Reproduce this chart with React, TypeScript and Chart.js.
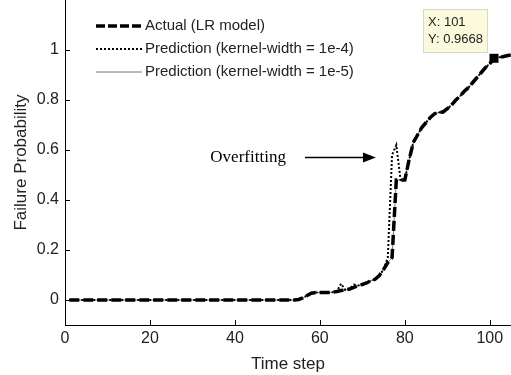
import React, { useEffect, useRef } from "react";
import { Chart, registerables } from "chart.js";

Chart.register(...registerables);

// ---- data ----
const timeSteps: number[] = [
  1, 2, 3, 4, 5, 6, 7, 8, 9, 10, 11, 12, 13, 14, 15, 16, 17, 18, 19, 20,
  21, 22, 23, 24, 25, 26, 27, 28, 29, 30, 31, 32, 33, 34, 35, 36, 37, 38, 39, 40,
  41, 42, 43, 44, 45, 46, 47, 48, 49, 50, 51, 52, 53, 54, 55, 56, 57, 58, 59, 60,
  61, 62, 63, 64, 65, 66, 67, 68, 69, 70, 71, 72, 73, 74, 75, 76, 77, 78, 79, 80,
  81, 82, 83, 84, 85, 86, 87, 88, 89, 90, 91, 92, 93, 94, 95, 96, 97, 98, 99, 100,
  101, 102, 103, 104, 105,
];

const actualLR: number[] = [
  0, 0, 0, 0, 0, 0, 0, 0, 0, 0, 0, 0, 0, 0, 0, 0, 0, 0, 0, 0,
  0, 0, 0, 0, 0, 0, 0, 0, 0, 0, 0, 0, 0, 0, 0, 0, 0, 0, 0, 0,
  0, 0, 0, 0, 0, 0, 0, 0, 0, 0, 0, 0, 0, 0, 0.002, 0.008, 0.018, 0.027, 0.03, 0.03,
  0.03, 0.03, 0.031, 0.034, 0.038, 0.04, 0.044, 0.05, 0.058, 0.062, 0.068, 0.077, 0.083, 0.098, 0.122, 0.15, 0.17, 0.48, 0.48, 0.48,
  0.56, 0.63, 0.66, 0.69, 0.71, 0.73, 0.745, 0.75, 0.752, 0.765, 0.78, 0.8, 0.815, 0.835, 0.85, 0.87, 0.89, 0.91, 0.93, 0.945,
  0.9668, 0.97, 0.973, 0.977, 0.98,
];

const predKw1e4: number[] = [
  0, 0, 0, 0, 0, 0, 0, 0, 0, 0, 0, 0, 0, 0, 0, 0, 0, 0, 0, 0,
  0, 0, 0, 0, 0, 0, 0, 0, 0, 0, 0, 0, 0, 0, 0, 0, 0, 0, 0, 0,
  0, 0, 0, 0, 0, 0, 0, 0, 0, 0, 0, 0, 0, 0, 0.002, 0.008, 0.018, 0.027, 0.03, 0.03,
  0.03, 0.03, 0.031, 0.034, 0.065, 0.04, 0.044, 0.062, 0.058, 0.062, 0.068, 0.077, 0.083, 0.098, 0.122, 0.17, 0.58, 0.62, 0.48, 0.48,
  0.56, 0.63, 0.66, 0.69, 0.71, 0.73, 0.745, 0.75, 0.752, 0.765, 0.78, 0.8, 0.815, 0.835, 0.85, 0.87, 0.89, 0.91, 0.93, 0.945,
  0.9668, 0.97, 0.973, 0.977, 0.98,
];

const predKw1e5: number[] = [
  0, 0, 0, 0, 0, 0, 0, 0, 0, 0, 0, 0, 0, 0, 0, 0, 0, 0, 0, 0,
  0, 0, 0, 0, 0, 0, 0, 0, 0, 0, 0, 0, 0, 0, 0, 0, 0, 0, 0, 0,
  0, 0, 0, 0, 0, 0, 0, 0, 0, 0, 0, 0, 0, 0, 0.002, 0.008, 0.018, 0.027, 0.03, 0.03,
  0.03, 0.03, 0.031, 0.034, 0.038, 0.04, 0.044, 0.05, 0.058, 0.062, 0.068, 0.077, 0.083, 0.098, 0.122, 0.15, 0.17, 0.48, 0.48, 0.48,
  0.56, 0.63, 0.66, 0.69, 0.71, 0.73, 0.745, 0.75, 0.752, 0.765, 0.78, 0.8, 0.815, 0.835, 0.85, 0.87, 0.89, 0.91, 0.93, 0.945,
  0.9668, 0.97, 0.973, 0.977, 0.98,
];

const seriesLabels = [
  "Actual (LR model)",
  "Prediction (kernel-width = 1e-4)",
  "Prediction (kernel-width = 1e-5)",
];

const xTicks = [0, 20, 40, 60, 80, 100];
const yTicks = [0, 0.2, 0.4, 0.6, 0.8, 1];
const xRange = [0, 105];
const yRange = [-0.1, 1.2];

const dataTipPoint = { x: 101, y: 0.9668 };
const annotationText = "Overfitting";
const annotationY = 0.57;
const arrowFromX = 56.5;
const arrowToX = 73.2;
const textRightX = 52;

const SANS = "'Liberation Sans', Arial, sans-serif";
const SERIF = "'Liberation Serif', 'Times New Roman', serif";

const toXY = (ys: number[]) => ys.map((y, i) => ({ x: timeSteps[i], y }));

const overlayPlugin = {
  id: "overlay",
  afterDatasetsDraw(chart: any) {
    const { ctx, chartArea: ca, scales } = chart;
    const xs = scales.x;
    const ys = scales.y;
    ctx.save();

    // inward ticks
    ctx.strokeStyle = "#000";
    ctx.lineWidth = 1;
    ctx.setLineDash([]);
    for (const v of xTicks) {
      const px = Math.round(xs.getPixelForValue(v)) + 0.5;
      ctx.beginPath();
      ctx.moveTo(px, ca.bottom);
      ctx.lineTo(px, ca.bottom - 5);
      ctx.stroke();
    }
    for (const v of yTicks) {
      const py = Math.round(ys.getPixelForValue(v)) + 0.5;
      ctx.beginPath();
      ctx.moveTo(ca.left, py);
      ctx.lineTo(ca.left + 5, py);
      ctx.stroke();
    }

    // annotation arrow
    const ay = ys.getPixelForValue(annotationY);
    const ax0 = xs.getPixelForValue(arrowFromX);
    const ax1 = xs.getPixelForValue(arrowToX);
    ctx.strokeStyle = "#000";
    ctx.fillStyle = "#000";
    ctx.lineWidth = 1.5;
    ctx.beginPath();
    ctx.moveTo(ax0, ay);
    ctx.lineTo(ax1 - 10, ay);
    ctx.stroke();
    ctx.beginPath();
    ctx.moveTo(ax1, ay);
    ctx.lineTo(ax1 - 13, ay - 5);
    ctx.lineTo(ax1 - 13, ay + 5);
    ctx.closePath();
    ctx.fill();
    ctx.font = `17px ${SERIF}`;
    ctx.textAlign = "right";
    ctx.textBaseline = "middle";
    ctx.fillText(annotationText, xs.getPixelForValue(textRightX), ay);

    // data tip
    const mx = xs.getPixelForValue(dataTipPoint.x);
    const my = ys.getPixelForValue(dataTipPoint.y);
    const bw = 64;
    const bh = 43;
    const bx = mx - 7 - bw;
    const by = my - 6 - bh;
    ctx.fillStyle = "#fbfadc";
    ctx.fillRect(bx, by, bw, bh);
    ctx.strokeStyle = "#d8d8c8";
    ctx.lineWidth = 1;
    ctx.strokeRect(Math.round(bx) + 0.5, Math.round(by) + 0.5, bw, bh);
    ctx.fillStyle = "#222";
    ctx.font = `13px ${SANS}`;
    ctx.textAlign = "left";
    ctx.textBaseline = "middle";
    ctx.fillText(`X: ${dataTipPoint.x}`, bx + 5, by + 13);
    ctx.fillText(`Y: ${dataTipPoint.y}`, bx + 5, by + 30);
    ctx.fillStyle = "#000";
    ctx.fillRect(mx - 4.5, my - 4.5, 9, 9);

    // legend
    const lx0 = ca.left + 31;
    const lx1 = ca.left + 77;
    const tx = ca.left + 80;
    const rows = [ca.top + 26, ca.top + 49, ca.top + 72];
    const styles = [
      { w: 3.5, dash: [9, 3], color: "#000" },
      { w: 2, dash: [2, 2], color: "#000" },
      { w: 1, dash: [], color: "#777" },
    ];
    ctx.font = `15px ${SANS}`;
    ctx.textAlign = "left";
    ctx.textBaseline = "middle";
    rows.forEach((ry, i) => {
      const s = styles[i];
      ctx.strokeStyle = s.color;
      ctx.lineWidth = s.w;
      ctx.setLineDash(s.dash);
      ctx.beginPath();
      ctx.moveTo(lx0, ry);
      ctx.lineTo(lx1, ry);
      ctx.stroke();
      ctx.setLineDash([]);
      ctx.fillStyle = "#222";
      ctx.fillText(seriesLabels[i], tx, ry);
    });

    ctx.restore();
  },
};

export default function App() {
  const canvasRef = useRef<HTMLCanvasElement | null>(null);

  useEffect(() => {
    document.body.style.margin = "0";
    const canvas = canvasRef.current;
    if (!canvas) return;
    const chart = new Chart(canvas, {
      type: "line",
      data: {
        datasets: [
          {
            label: seriesLabels[0],
            data: toXY(actualLR),
            borderColor: "#000",
            borderWidth: 3.5,
            borderDash: [10, 4],
            pointRadius: 0,
            tension: 0,
          },
          {
            label: seriesLabels[1],
            data: toXY(predKw1e4),
            borderColor: "#000",
            borderWidth: 2,
            borderDash: [2, 2],
            pointRadius: 0,
            tension: 0,
          },
          {
            label: seriesLabels[2],
            data: toXY(predKw1e5),
            borderColor: "#777",
            borderWidth: 1,
            pointRadius: 0,
            tension: 0,
          },
        ],
      },
      options: {
        animation: false,
        responsive: false,
        devicePixelRatio: 1,
        layout: { padding: 0 },
        plugins: {
          legend: { display: false },
          tooltip: { enabled: false },
        },
        scales: {
          x: {
            type: "linear",
            min: xRange[0],
            max: xRange[1],
            afterBuildTicks: (s: any) => {
              s.ticks = xTicks.map((v) => ({ value: v }));
            },
            afterFit: (s: any) => {
              s.height = 50;
              s.paddingLeft = 0;
              s.paddingRight = 0;
            },
            grid: { display: true, drawOnChartArea: false, drawTicks: false },
            border: { display: true, color: "#000", width: 1 },
            ticks: {
              color: "#222",
              font: { family: SANS, size: 16 },
              padding: 4,
              maxRotation: 0,
              callback: (v: any) => String(v),
            },
            title: {
              display: true,
              text: "Time step",
              color: "#222",
              font: { family: SANS, size: 17 },
              padding: { top: 7, bottom: 0 },
            },
          },
          y: {
            type: "linear",
            min: yRange[0],
            max: yRange[1],
            afterBuildTicks: (s: any) => {
              s.ticks = yTicks.map((v) => ({ value: v }));
            },
            afterFit: (s: any) => {
              s.width = 65;
              s.paddingTop = 0;
              s.paddingBottom = 0;
            },
            grid: { display: true, drawOnChartArea: false, drawTicks: false },
            border: { display: true, color: "#000", width: 1 },
            ticks: {
              color: "#222",
              font: { family: SANS, size: 16 },
              padding: 6,
              callback: (v: any) => String(v),
            },
            title: {
              display: true,
              text: "Failure Probability",
              color: "#222",
              font: { family: SANS, size: 17 },
              padding: { top: 11, bottom: 0 },
            },
          },
        },
      },
      plugins: [overlayPlugin],
    });
    return () => chart.destroy();
  }, []);

  return (
    <canvas
      ref={canvasRef}
      width={511}
      height={375}
      style={{ display: "block", width: 511, height: 375 }}
    />
  );
}
